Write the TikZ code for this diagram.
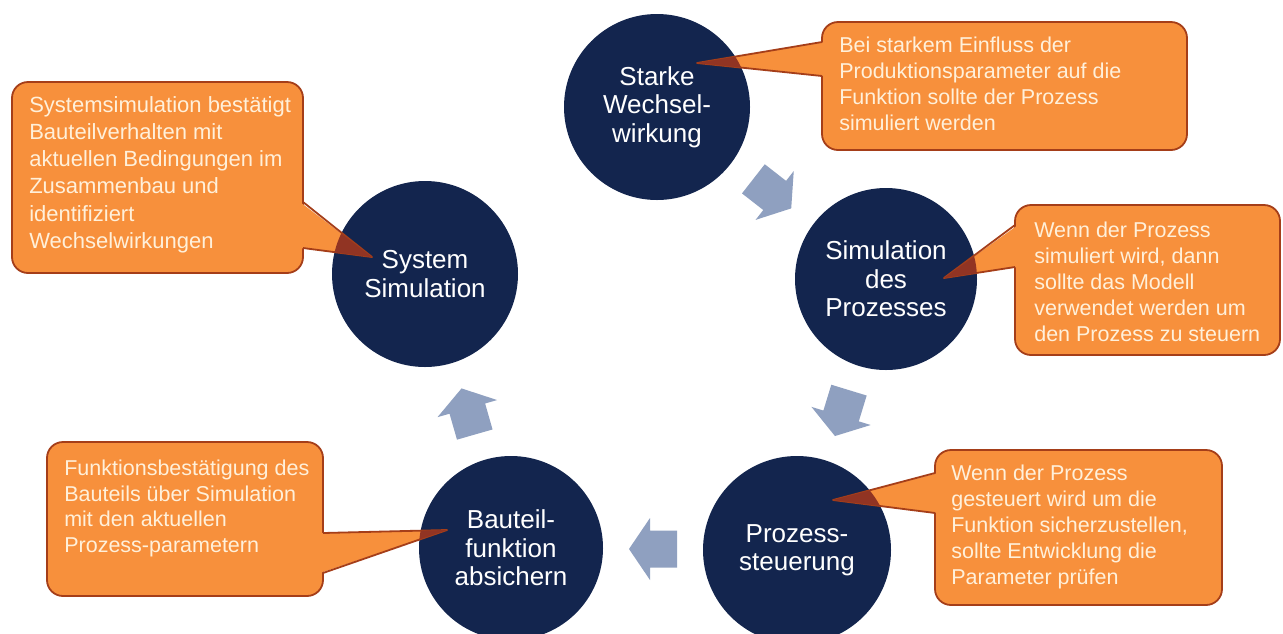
\documentclass[tikz,border=0pt]{standalone}
\usepackage{fontspec}
\setmainfont{Liberation Sans}
\usetikzlibrary{calc}
\pgfdeclarelayer{bg}
\pgfsetlayers{bg,main}
\definecolor{navy}{RGB}{19,37,78}
\definecolor{boxorange}{RGB}{247,144,60}
\definecolor{boxborder}{RGB}{165,62,25}
\definecolor{tipdark}{RGB}{145,52,35}
\definecolor{arrowgrey}{RGB}{143,160,192}
\definecolor{boxtext}{RGB}{255,240,218}
\begin{document}
\begin{tikzpicture}[x=1pt,y=-1pt,
  circ/.style={circle, inner sep=0pt, text=white, align=center, font=\fontsize{26}{28.5}\selectfont},
  boxshape/.style={draw=boxborder, line width=1.8pt, fill=boxorange, rounded corners=16pt, inner sep=0pt},
  calltext/.style={anchor=north west, align=left, inner sep=0pt, text=boxtext, font=\fontsize{21.5}{26}\selectfont},
  ptrfill/.style={fill=boxorange},
  ptrline/.style={draw=boxborder, line width=1.8pt, line join=round},
  ptrdark/.style={fill=tipdark},
  blockarrow/.style={fill=arrowgrey}]
\useasboundingbox (0,0) rectangle (1283,633);

% circles (text on main layer)
\node[circ, minimum size=186pt] (starke) at (657,107) {Starke\\Wechsel-\\wirkung};
\node[circ, minimum size=182pt] (simul) at (886,279) {Simulation\\des\\Prozesses};
\node[circ, minimum size=188pt] (proz) at (797,550) {Prozess-\\steuerung};
\node[circ, minimum size=184pt] (bauteil) at (511,548) {Bauteil-\\funktion\\absichern};
\node[circ, minimum size=186pt] (system) at (425,274) {System\\Simulation};

% midpoints for the block arrows
\path (starke) -- coordinate[midway] (m1) (simul);
\path (simul) -- coordinate[midway] (m2) (proz);
\path (proz) -- coordinate[midway] (m3) (bauteil);
\path (bauteil) -- coordinate[midway] (m4) (system);

\begin{pgfonlayer}{bg}
\fill[white] (0,0) rectangle (1283,633);
\fill[navy] (starke.center) circle[radius=93];
\fill[navy] (simul.center) circle[radius=91];
\fill[navy] (proz.center) circle[radius=94];
\fill[navy] (bauteil.center) circle[radius=92];
\fill[navy] (system.center) circle[radius=93];

\foreach \m/\a in {m1/-38, m2/-107, m3/180, m4/106}{
  \begin{scope}[shift={(\m)}, rotate=\a]
    \fill[blockarrow] (24,0) -- (3,31) -- (3,18.5) -- (-24,18.5) -- (-24,-18.5) -- (3,-18.5) -- (3,-31) -- cycle;
  \end{scope}
}

% callout boxes
\node[boxshape, minimum width=291pt, minimum height=191pt] (boxA) at (157.5,177.5) {};
\node[boxshape, minimum width=365pt, minimum height=128pt] (boxB) at (1004.5,86) {};
\node[boxshape, minimum width=265pt, minimum height=150pt] (boxC) at (1147.5,280) {};
\node[boxshape, minimum width=287pt, minimum height=155pt] (boxD) at (1078.5,527.5) {};
\node[boxshape, minimum width=276pt, minimum height=154pt] (boxE) at (185,519) {};

% pointers
\fill[ptrfill] (300,202) -- (372,257) -- (300,248) -- cycle;
\draw[ptrline] (303,202) -- (372,257) -- (303,248);
\begin{scope}\clip (system.center) circle[radius=93];
  \fill[ptrdark] (300,202) -- (372,257) -- (300,248) -- cycle;
\end{scope}

\fill[ptrfill] (825,42) -- (697,63) -- (825,76) -- cycle;
\draw[ptrline] (822,42) -- (697,63) -- (822,76);
\begin{scope}\clip (starke.center) circle[radius=93];
  \fill[ptrdark] (825,42) -- (697,63) -- (825,76) -- cycle;
\end{scope}

\fill[ptrfill] (1018,225) -- (944,278) -- (1018,267) -- cycle;
\draw[ptrline] (1015,225) -- (944,278) -- (1015,267);
\begin{scope}\clip (simul.center) circle[radius=91];
  \fill[ptrdark] (1018,225) -- (944,278) -- (1018,267) -- cycle;
\end{scope}

\fill[ptrfill] (938,473) -- (833,500) -- (938,513) -- cycle;
\draw[ptrline] (935,473) -- (833,500) -- (935,513);
\begin{scope}\clip (proz.center) circle[radius=94];
  \fill[ptrdark] (938,473) -- (833,500) -- (938,513) -- cycle;
\end{scope}

\fill[ptrfill] (320,533) -- (447,530) -- (320,573) -- cycle;
\draw[ptrline] (323,533) -- (447,530) -- (323,573);
\begin{scope}\clip (bauteil.center) circle[radius=92];
  \fill[ptrdark] (320,533) -- (447,530) -- (320,573) -- cycle;
\end{scope}
\end{pgfonlayer}

% callout texts
\node[calltext, font=\fontsize{22}{27.2}\selectfont] (txtA) at ($(boxA.north west)+(18,15)$)
  {Systemsimulation bestätigt\\Bauteilverhalten mit\\aktuellen Bedingungen im\\Zusammenbau und\\identifiziert\\Wechselwirkungen};
\node[calltext] (txtB) at ($(boxB.north west)+(18,16)$)
  {Bei starkem Einfluss der\\Produktionsparameter auf die\\Funktion sollte der Prozess\\simuliert werden};
\node[calltext] (txtC) at ($(boxC.north west)+(20,18)$)
  {Wenn der Prozess\\simuliert wird, dann\\sollte das Modell\\verwendet werden um\\den Prozess zu steuern};
\node[calltext] (txtD) at ($(boxD.north west)+(17,16)$)
  {Wenn der Prozess\\gesteuert wird um die\\Funktion sicherzustellen,\\sollte Entwicklung die\\Parameter prüfen};
\node[calltext, font=\fontsize{21.5}{25.5}\selectfont] (txtE) at ($(boxE.north west)+(18,19)$)
  {Funktionsbestätigung des\\Bauteils über Simulation\\mit den aktuellen\\Prozess-parametern};
\end{tikzpicture}
\end{document}
